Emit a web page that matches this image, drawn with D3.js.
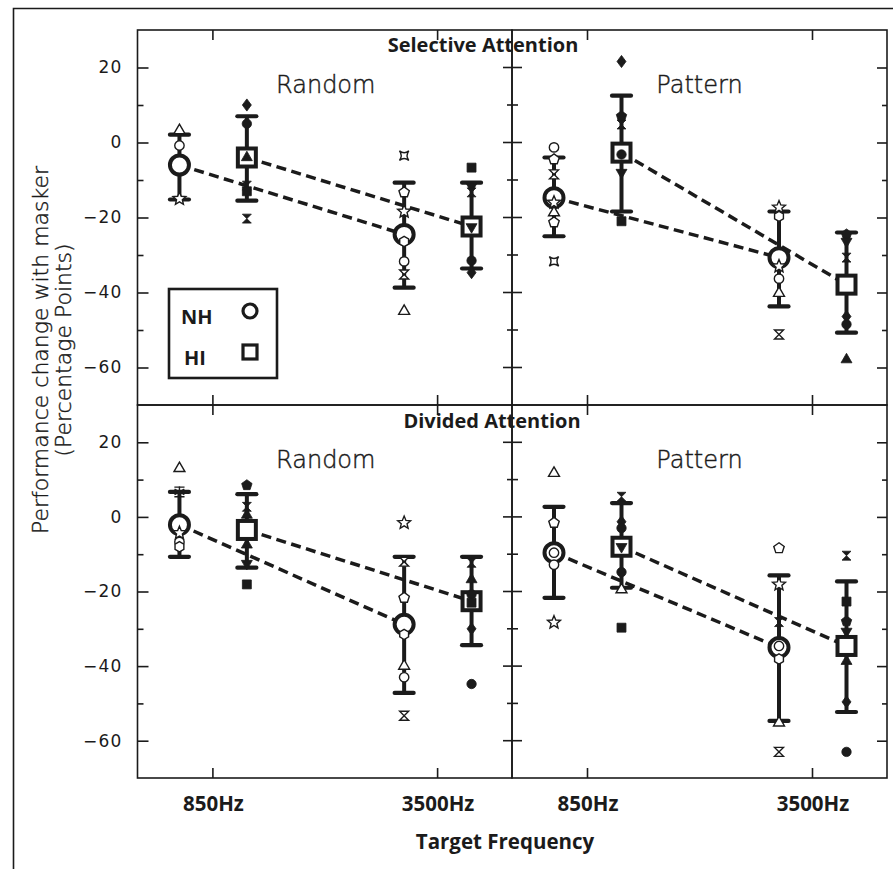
<!DOCTYPE html>
<html><head><meta charset="utf-8">
<script src="https://cdn.jsdelivr.net/npm/d3@7"></script>
<style>body{margin:0;background:#fff} svg{display:block}</style>
</head><body>
<svg id="c" width="893" height="869"></svg>
<script>
// ---------------- DATA ----------------
const attentionTitles = ["Selective Attention", "Divided Attention"];
const conditionNames = ["Random", "Pattern", "Random", "Pattern"];
const freqLabels = ["850Hz", "3500Hz"];
const freqPos = [1, 4];
const groups = ["NH", "HI"];
const yMajorTicks = [-60, -40, -20, 0, 20];
const yMinorTicks = [-50, -30, -10, 10];

// group means [panel][freq]
const nhMean = [[-6, -24.5], [-14.7, -30.7], [-2.1, -28.8], [-9.6, -35]];
const hiMean = [[-4, -22.4], [-2.7, -37.9], [-3.5, -22.6], [-8, -34.6]];
// error bar ends [panel][freq]
const nhLow  = [[-15.2, -38.7], [-25, -43.7], [-10.7, -47.2], [-21.7, -54.7]];
const nhHigh = [[2.1, -10.7], [-4, -18.4], [6.7, -10.7], [2.7, -15.7]];
const hiLow  = [[-15.5, -33.6], [-18.4, -50.7], [-13.6, -34.4], [-19, -52.3]];
const hiHigh = [[7, -10.7], [12.5, -24], [6.1, -10.7], [3.7, -17.3]];

// individual listeners [panel][freq] -> [value, symbol]
const nhListeners = [
  [[[3.2, "oTri"], [-0.8, "oCirc"], [-15, "oStar"]],
   [[-3.5, "oCrossSq"], [-13.3, "oPent"], [-18.4, "oStar"], [-26.4, "oHex"], [-31.7, "oCirc"], [-35.2, "oHour"], [-45, "oTri"]]],
  [[[-1.3, "oCirc"], [-4.5, "oPent"], [-8.5, "oHour"], [-16, "oStar"], [-18.7, "oTri"], [-21.3, "oPent"], [-31.7, "oCrossSq"]],
   [[-17.3, "oStar"], [-19.7, "oHex"], [-33, "oStar"], [-36.3, "oCirc"], [-40.2, "oTri"], [-51.2, "oHour"]]],
  [[[13, "oTri"], [6.7, "oAst"], [-4.3, "oStar"], [-6.7, "oCirc"], [-8, "oHex"]],
   [[-1.6, "oStar"], [-12, "oHour"], [-21.7, "oPent"], [-31.5, "oHex"], [-40, "oTri"], [-43, "oCirc"], [-53.3, "oHour"]]],
  [[[11.7, "oTri"], [-1.6, "oPent"], [-9.6, "oCirc"], [-12.8, "oCirc"], [-28.3, "oStar"]],
   [[-8.4, "oPent"], [-18.1, "oStar"], [-28.2, "fHour"], [-34.6, "oCirc"], [-38.1, "oHex"], [-55.2, "oTri"], [-63, "oHour"]]]
];
const hiListeners = [
  [[[10, "fDia"], [5, "fCirc"], [-4, "fTri"], [-11.5, "fHour"], [-13, "fSq"], [-20.3, "fHour"]],
   [[-6.7, "fSq"], [-11.7, "fTriD"], [-13.3, "fHour"], [-22.5, "fTriD"], [-31.5, "fCirc"], [-34.7, "fDia"]]],
  [[[21.6, "fDia"], [7, "fPent"], [4.8, "fHour"], [-3.2, "fCirc"], [-8, "fTriD"], [-21, "fSq"]],
   [[-24.5, "fPent"], [-26.4, "fTriD"], [-30.7, "fHour"], [-46.4, "fDia"], [-48.5, "fCirc"], [-57.9, "fTri"]]],
  [[[8.5, "fPent"], [2.7, "fHour"], [0.5, "fTri"], [-7.5, "fTri"], [-12.5, "fTriD"], [-18.1, "fSq"]],
   [[-12.3, "fHour"], [-16.8, "fTri"], [-20.8, "fCirc"], [-23, "fSq"], [-30, "fDia"], [-44.8, "fCirc"]]],
  [[[5.4, "fHour"], [-1.3, "fDia"], [-3, "fCirc"], [-8, "fTriD"], [-14.8, "fCirc"], [-19.5, "oTri"], [-29.7, "fSq"]],
   [[-10.4, "fHour"], [-22.7, "fSq"], [-28, "fPent"], [-30.7, "fTriD"], [-38.7, "fTri"], [-49.6, "fDia"], [-63, "fCirc"]]]
];

// ---------------- SYMBOL TYPES ----------------
function poly(n, rot) {
  return { draw(ctx, size) {
    const r = Math.sqrt(size);
    for (let k = 0; k < n; k++) {
      const a = -Math.PI / 2 + rot + 2 * Math.PI * k / n;
      const px = r * Math.cos(a), py = r * Math.sin(a);
      if (k === 0) ctx.moveTo(px, py); else ctx.lineTo(px, py);
    }
    ctx.closePath();
  }};
}
const symStar = { draw(ctx, size) {
  const r = Math.sqrt(size), ri = r * 0.45;
  for (let k = 0; k < 10; k++) {
    const a = -Math.PI / 2 + Math.PI * k / 5, rr = k % 2 ? ri : r;
    const px = rr * Math.cos(a), py = rr * Math.sin(a);
    if (k === 0) ctx.moveTo(px, py); else ctx.lineTo(px, py);
  }
  ctx.closePath();
}};
const symDia = { draw(ctx, size) {
  const r = Math.sqrt(size);
  ctx.moveTo(0, -1.15 * r); ctx.lineTo(0.85 * r, 0); ctx.lineTo(0, 1.15 * r); ctx.lineTo(-0.85 * r, 0); ctx.closePath();
}};
const symHour = { draw(ctx, size) {
  const r = Math.sqrt(size);
  ctx.moveTo(-r, -r); ctx.lineTo(r, -r); ctx.lineTo(-r, r); ctx.lineTo(r, r); ctx.closePath();
}};
const symCrossSq = { draw(ctx, size) {
  const r = Math.sqrt(size);
  ctx.moveTo(-r, -r);
  ctx.quadraticCurveTo(0, -0.25 * r, r, -r);
  ctx.quadraticCurveTo(0.25 * r, 0, r, r);
  ctx.quadraticCurveTo(0, 0.25 * r, -r, r);
  ctx.quadraticCurveTo(-0.25 * r, 0, -r, -r);
  ctx.closePath();
}};
const symAst = { draw(ctx, size) {
  const r = Math.sqrt(size);
  for (let k = 0; k < 3; k++) {
    const a = Math.PI / 2 + Math.PI * k / 3;
    ctx.moveTo(r * Math.cos(a), r * Math.sin(a));
    ctx.lineTo(-r * Math.cos(a), -r * Math.sin(a));
  }
  ctx.moveTo(-r * 0.9, -r * 0.85); ctx.lineTo(r * 0.9, -r * 0.85);
  ctx.moveTo(-r * 0.9, r * 0.85); ctx.lineTo(r * 0.9, r * 0.85);
}};
const symCirc = { draw(ctx, size) { const r = Math.sqrt(size); ctx.moveTo(r, 0); ctx.arc(0, 0, r, 0, 2 * Math.PI); } };
const symSq = { draw(ctx, size) { const r = Math.sqrt(size); ctx.rect(-r, -r, 2 * r, 2 * r); } };

const symbolTable = {
  Tri: [poly(3, 0), 40], TriD: [poly(3, Math.PI), 40], Circ: [symCirc, 22], Star: [symStar, 46],
  Pent: [poly(5, 0), 30], Hex: [poly(6, 0), 26], Hour: [symHour, 20], CrossSq: [symCrossSq, 22],
  Ast: [symAst, 32], Dia: [symDia, 28], Sq: [symSq, 20]
};

// ---------------- DRAW ----------------
const ink = "#1b1b1b";
const svg = d3.select("#c");
const W = 893, H = 869;
const thinFont = "'DejaVu Sans', sans-serif";
const boldFont = "'Open Sans', sans-serif";

svg.append("path").attr("d", `M13.5,${H} L13.5,8.5 L${W},8.5`).attr("fill", "none").attr("stroke", ink).attr("stroke-width", 1.6);

const panelBoxes = [
  { x0: 137.5, x1: 512, y0: 30, y1: 405 },
  { x0: 512, x1: 887, y0: 30, y1: 405 },
  { x0: 137.5, x1: 512, y0: 405, y1: 778 },
  { x0: 512, x1: 887, y0: 405, y1: 778 }
];
const offsets = [-0.44, 0.46];

panelBoxes.forEach((b, p) => {
  const x = d3.scaleLinear().domain([0, 5]).range([b.x0, b.x1]);
  const y = d3.scaleLinear().domain([-70, 30]).range([b.y1, b.y0]);
  const g = svg.append("g");

  g.append("rect").attr("x", b.x0).attr("y", b.y0).attr("width", b.x1 - b.x0).attr("height", b.y1 - b.y0)
    .attr("fill", "none").attr("stroke", ink).attr("stroke-width", 1.6);

  const xt = g.append("g").attr("transform", `translate(0,${b.y0})`)
    .call(d3.axisBottom(x).tickValues(freqPos).tickSize(10).tickFormat(""));
  const xb = g.append("g").attr("transform", `translate(0,${b.y1})`)
    .call(d3.axisTop(x).tickValues(freqPos).tickSize(10).tickFormat(""));
  [xt, xb].forEach(a => { a.select(".domain").remove(); a.selectAll("line").attr("stroke", ink).attr("stroke-width", 1.6); });

  if (p % 2 === 0) {
    const maj = g.append("g").attr("transform", `translate(${b.x0},0)`)
      .call(d3.axisRight(y).tickValues(yMajorTicks).tickSize(11).tickFormat(""));
    const mn = g.append("g").attr("transform", `translate(${b.x0},0)`)
      .call(d3.axisRight(y).tickValues(yMinorTicks).tickSize(6).tickFormat(""));
    [maj, mn].forEach(a => { a.select(".domain").remove(); a.selectAll("line").attr("stroke", ink).attr("stroke-width", 1.6); });
    const lab = g.append("g").attr("transform", `translate(${b.x0},0)`)
      .call(d3.axisLeft(y).tickValues(yMajorTicks).tickSize(0).tickPadding(15).tickFormat(d3.format("d")));
    lab.select(".domain").remove();
    lab.selectAll("text").attr("font-family", "DejaVu Sans").attr("font-size", 17).attr("fill", ink)
      .attr("letter-spacing", 1.2);
    g.selectAll("line.mmaj").data(yMajorTicks).join("line").attr("x1", b.x1 - 9).attr("x2", b.x1 + 10)
      .attr("y1", d => y(d)).attr("y2", d => y(d)).attr("stroke", ink).attr("stroke-width", 1.6);
    g.selectAll("line.mmin").data(yMinorTicks).join("line").attr("x1", b.x1 - 5).attr("x2", b.x1 + 6)
      .attr("y1", d => y(d)).attr("y2", d => y(d)).attr("stroke", ink).attr("stroke-width", 1.6);
  } else {
    const maj = g.append("g").attr("transform", `translate(${b.x1},0)`)
      .call(d3.axisLeft(y).tickValues(yMajorTicks).tickSize(10).tickFormat(""));
    const mn = g.append("g").attr("transform", `translate(${b.x1},0)`)
      .call(d3.axisLeft(y).tickValues(yMinorTicks).tickSize(5).tickFormat(""));
    [maj, mn].forEach(a => { a.select(".domain").remove(); a.selectAll("line").attr("stroke", ink).attr("stroke-width", 1.6); });
  }

  g.append("text").attr("x", (b.x0 + b.x1) / 2 + (p % 2 ? 0 : 1)).attr("y", b.y0 + 63)
    .attr("text-anchor", "middle").attr("font-family", thinFont).attr("font-weight", 200)
    .attr("font-size", 24).attr("fill", ink).attr("stroke", ink).attr("stroke-width", 0.45)
    .text(conditionNames[p]);

  const line = d3.line().x(d => x(d[0])).y(d => y(d[1]));
  [nhMean, hiMean].forEach((m, gi) => {
    g.append("path").attr("d", line(freqPos.map((f, i) => [f + offsets[gi], m[p][i]])))
      .attr("fill", "none").attr("stroke", ink).attr("stroke-width", 3.5).attr("stroke-dasharray", "10,5.5");
  });

  const grpData = [
    { mean: nhMean, lo: nhLow, hi: nhHigh, ind: nhListeners },
    { mean: hiMean, lo: hiLow, hi: hiHigh, ind: hiListeners }
  ];
  grpData.forEach((gd, gi) => {
    freqPos.forEach((f, i) => {
      const cx = x(f + offsets[gi]);
      g.append("line").attr("x1", cx).attr("x2", cx).attr("y1", y(gd.lo[p][i])).attr("y2", y(gd.hi[p][i]))
        .attr("stroke", ink).attr("stroke-width", 4);
      [gd.lo[p][i], gd.hi[p][i]].forEach(v => {
        g.append("line").attr("x1", cx - 9.5).attr("x2", cx + 9.5).attr("y1", y(v)).attr("y2", y(v))
          .attr("stroke", ink).attr("stroke-width", 4.2).attr("stroke-linecap", "round");
      });
      const my = y(gd.mean[p][i]);
      if (gi === 0) {
        g.append("circle").attr("cx", cx).attr("cy", my).attr("r", 9.5).attr("fill", "#fff")
          .attr("stroke", ink).attr("stroke-width", 4);
      } else {
        g.append("rect").attr("x", cx - 9).attr("y", my - 9).attr("width", 18).attr("height", 18)
          .attr("fill", "#fff").attr("stroke", ink).attr("stroke-width", 4);
      }
    });
  });
  grpData.forEach((gd, gi) => {
    freqPos.forEach((f, i) => {
      const cx = x(f + offsets[gi]);
      gd.ind[p][i].forEach(([v, s]) => {
        const filled = s[0] === "f";
        const [type, size] = symbolTable[s.slice(1)];
        g.append("path").attr("transform", `translate(${cx},${y(v)})`)
          .attr("d", d3.symbol().type(type).size(size)())
          .attr("fill", s === "oAst" ? "none" : (filled ? ink : "#fff"))
          .attr("stroke", ink).attr("stroke-width", filled ? 0.8 : 1.4).attr("stroke-linejoin", "miter");
      });
    });
  });

  if (p >= 2) {
    freqPos.forEach((f, i) => {
      svg.append("text").attr("x", x(f) + 1).attr("y", 811).attr("text-anchor", "middle")
        .attr("font-family", boldFont).attr("font-weight", 700).attr("font-size", 20.5)
        .attr("fill", ink).text(freqLabels[i]);
    });
  }
});

svg.append("text").attr("x", 483).attr("y", 52).attr("text-anchor", "middle")
  .attr("font-family", boldFont).attr("font-weight", 700).attr("font-size", 20)
  .attr("fill", ink).text(attentionTitles[0]);
svg.append("text").attr("x", 492).attr("y", 428).attr("text-anchor", "middle")
  .attr("font-family", boldFont).attr("font-weight", 700).attr("font-size", 20)
  .attr("fill", ink).text(attentionTitles[1]);

svg.append("text").attr("x", 505).attr("y", 849).attr("text-anchor", "middle")
  .attr("font-family", boldFont).attr("font-weight", 700).attr("font-size", 20.5)
  .attr("fill", ink).text("Target Frequency");

const yt = svg.append("text").attr("transform", "translate(0,350) rotate(-90)")
  .attr("text-anchor", "middle").attr("font-family", thinFont).attr("font-weight", 200)
  .attr("font-size", 22).attr("fill", ink).attr("stroke", ink).attr("stroke-width", 0.4);
yt.append("tspan").attr("x", 0).attr("y", 48).text("Performance change with masker");
yt.append("tspan").attr("x", 0).attr("y", 71).text("(Percentage Points)");

const lg = svg.append("g");
lg.append("rect").attr("x", 169).attr("y", 289).attr("width", 108).attr("height", 89)
  .attr("fill", "#fff").attr("stroke", ink).attr("stroke-width", 2.6);
groups.forEach((gname, i) => {
  const cy = 311 + i * 41;
  lg.append("text").attr("x", i === 0 ? 181 : 184).attr("y", cy + 13).attr("font-family", boldFont)
    .attr("font-weight", 700).attr("font-size", 20).attr("fill", ink).text(gname);
  if (i === 0) lg.append("circle").attr("cx", 250).attr("cy", cy).attr("r", 7).attr("fill", "none").attr("stroke", ink).attr("stroke-width", 3.2);
  else lg.append("rect").attr("x", 243).attr("y", cy - 7).attr("width", 14).attr("height", 14).attr("fill", "none").attr("stroke", ink).attr("stroke-width", 3.2);
});
</script>
</body></html>
